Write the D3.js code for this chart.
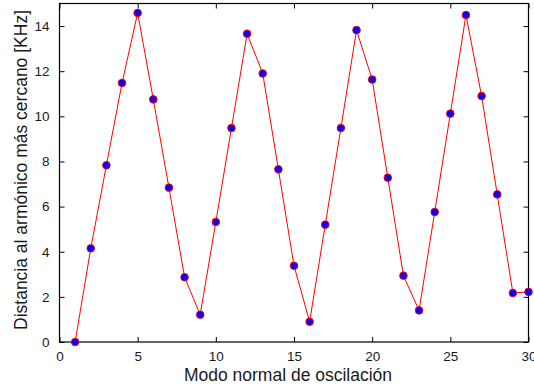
<!DOCTYPE html>
<html>
<head>
<meta charset="utf-8">
<script src="https://cdn.jsdelivr.net/npm/d3@7"></script>
<style>
  body { margin: 0; background: #fff; }
  svg { display: block; font-family: "Liberation Sans", Arial, sans-serif; }
</style>
</head>
<body>
<div id="chart"></div>
<script>
// modo normal (eje x)
const modos = d3.range(1, 31)
// distancia al armónico más cercano [KHz]
const distancias = [
  0, 4.15, 7.83, 11.48, 14.58, 10.75, 6.84, 2.87, 1.21, 5.32,
  9.48, 13.66, 11.9, 7.65, 3.38, 0.9, 5.2, 9.48, 13.82, 11.63,
  7.28, 2.94, 1.4, 5.76, 10.12, 14.49, 10.9, 6.54, 2.17, 2.22
]
const xTicks = [0, 5, 10, 15, 20, 25, 30]
const yTicks = [0, 2, 4, 6, 8, 10, 12, 14]

const width = 534, height = 390
const margin = { top: 3.5, right: 5.5, bottom: 48, left: 59.5 }
const innerW = width - margin.left - margin.right
const innerH = height - margin.top - margin.bottom

const svg = d3.select('#chart').append('svg')
  .attr('width', width).attr('height', height)

const x = d3.scaleLinear().domain([0, 30]).range([margin.left, margin.left + innerW])
const y = d3.scaleLinear().domain([0, 15]).range([margin.top + innerH, margin.top])

const tickLen = 5
const textColor = '#1a1a1a'

// ejes: ticks hacia dentro en los cuatro lados
const axisBottom = d3.axisBottom(x).tickValues(xTicks).tickSizeInner(-tickLen).tickSizeOuter(0).tickPadding(tickLen + 4)
const axisTop = d3.axisTop(x).tickValues(xTicks).tickSizeInner(-tickLen).tickSizeOuter(0).tickFormat('')
const axisLeft = d3.axisLeft(y).tickValues(yTicks).tickSizeInner(-tickLen).tickSizeOuter(0).tickPadding(tickLen + 5)
const axisRight = d3.axisRight(y).tickValues(yTicks).tickSizeInner(-tickLen).tickSizeOuter(0).tickFormat('')

function styleAxis(g) {
  g.select('.domain').remove()
  g.selectAll('line').attr('stroke', '#000')
  g.selectAll('text').attr('fill', textColor).attr('font-size', 13.5)
    .attr('font-family', '"Liberation Sans", Arial, sans-serif')
}

svg.append('g').attr('transform', `translate(0,${margin.top + innerH})`).call(axisBottom).call(styleAxis)
svg.append('g').attr('transform', `translate(0,${margin.top})`).call(axisTop).call(styleAxis)
svg.append('g').attr('transform', `translate(${margin.left},0)`).call(axisLeft).call(styleAxis)
svg.append('g').attr('transform', `translate(${margin.left + innerW},0)`).call(axisRight).call(styleAxis)

// marco
svg.append('rect')
  .attr('x', margin.left).attr('y', margin.top)
  .attr('width', innerW).attr('height', innerH)
  .attr('fill', 'none').attr('stroke', '#000').attr('stroke-width', 1.2)

const data = modos.map((m, i) => ({ m, v: distancias[i] }))

// línea
svg.append('path')
  .datum(data)
  .attr('fill', 'none')
  .attr('stroke', '#f00')
  .attr('stroke-width', 1)
  .attr('d', d3.line().x(d => x(d.m)).y(d => y(d.v)))

// puntos
svg.append('g').selectAll('circle')
  .data(data)
  .join('circle')
  .attr('cx', d => x(d.m))
  .attr('cy', d => y(d.v))
  .attr('r', 3.8)
  .attr('fill', '#00f')
  .attr('stroke', '#f00')
  .attr('stroke-width', 1)

// etiquetas
svg.append('text')
  .attr('x', 288)
  .attr('y', 381)
  .attr('text-anchor', 'middle')
  .attr('fill', textColor)
  .attr('font-size', 17.5)
  .text('Modo normal de oscilación')

svg.append('text')
  .attr('transform', `translate(27,170) rotate(-90)`)
  .attr('text-anchor', 'middle')
  .attr('fill', textColor)
  .attr('font-size', 17.5)
  .text('Distancia al armónico más cercano [KHz]')
</script>
</body>
</html>
